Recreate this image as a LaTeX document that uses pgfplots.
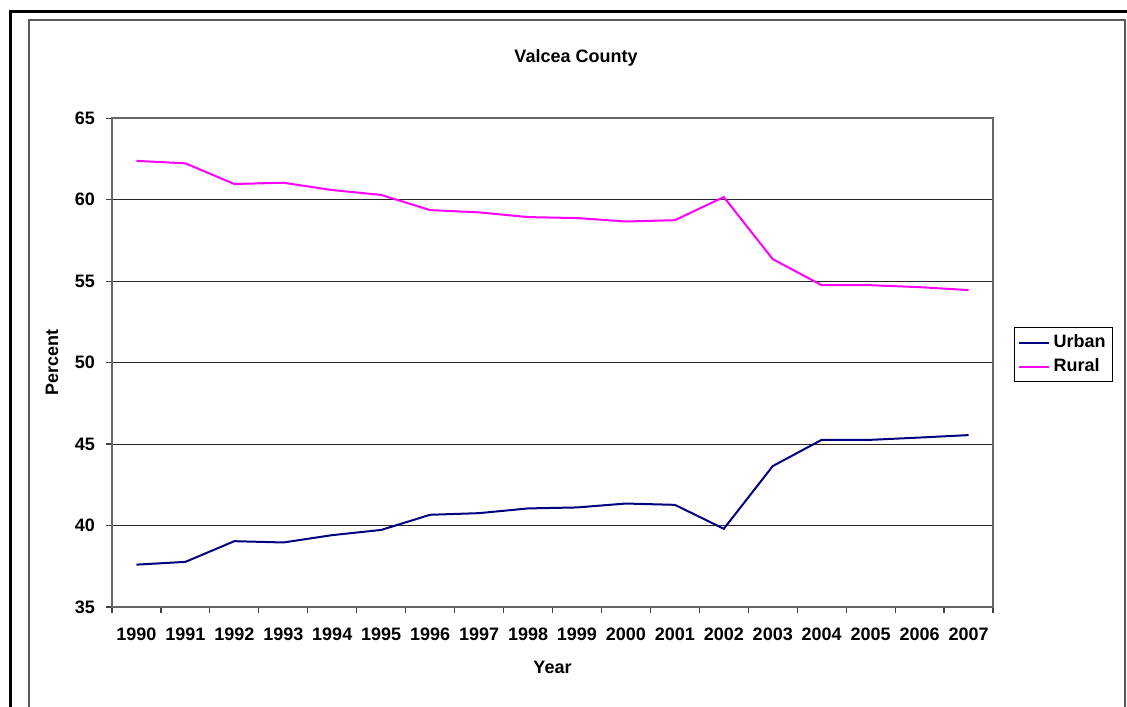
\documentclass[border=0pt]{standalone}
\usepackage{pgfplots}
\pgfplotsset{compat=1.18}
\usepackage{fontspec}
\setmainfont{Liberation Sans}
\definecolor{urban}{RGB}{0,0,128}
\definecolor{rural}{RGB}{255,0,255}
\begin{document}
\begin{tikzpicture}
\clip (0pt,0pt) rectangle (563.5pt,353pt);
\fill[white] (0pt,0pt) rectangle (563.5pt,353pt);
\draw[black, line width=1.5pt] (5pt,347pt) rectangle (575pt,-10pt);
\draw[gray!70!black, line width=0.8pt] (14.5pt,343pt) rectangle (562.5pt,-10pt);
\begin{axis}[
  at={(56pt,49.5pt)}, anchor=south west,
  scale only axis, width=440.5pt, height=244.4pt,
  xmin=-0.5, xmax=17.5, ymin=35, ymax=65,
  ytick={35,40,...,65},
  xtick={0,...,17},
  xticklabels={1990,1991,1992,1993,1994,1995,1996,1997,1998,1999,2000,2001,2002,2003,2004,2005,2006,2007},
  minor xtick={-0.5,0.5,...,17.5},
  major x tick style={draw=none},
  tick align=outside,
  xtick pos=lower, ytick pos=left,
  tick style={black!75, line width=0.6pt},
  major tick length=3pt, minor tick length=3pt,
  ymajorgrids, major grid style={black!85, line width=0.5pt},
  axis line style={gray!80!black, line width=0.7pt},
  ticklabel style={font=\bfseries\fontsize{9}{10}\selectfont},
  xticklabel style={yshift=-4pt},
  yticklabel style={xshift=-2pt},
  /pgf/number format/assume math mode=true,
  title={Valcea County},
  title style={font=\bfseries\fontsize{9}{10}\selectfont, at={(0.5,1)}, anchor=center, yshift=24pt, xshift=11.75pt},
  xlabel={Year}, ylabel={Percent},
  xlabel style={font=\bfseries\fontsize{9}{10}\selectfont, at={(axis description cs:0.5,0)}, anchor=center, yshift=-30pt},
  ylabel style={font=\bfseries\fontsize{9}{10}\selectfont, at={(axis description cs:0,0.5)}, anchor=center, yshift=30pt},
  legend style={at={(1,0.5)}, anchor=west, xshift=10.5pt, yshift=4pt, draw=black, line width=0.5pt,
    font=\bfseries\fontsize{9}{10}\selectfont, inner sep=1.5pt, cells={anchor=west}},
  legend image code/.code={\draw[#1,line width=1pt] (0pt,0pt) -- (15pt,0pt);},
]
\addplot[urban, line width=1pt] coordinates {
(0,37.60) (1,37.77) (2,39.04) (3,38.96) (4,39.41) (5,39.73) (6,40.66) (7,40.76) (8,41.05)
(9,41.11) (10,41.35) (11,41.27) (12,39.80) (13,43.65) (14,45.26) (15,45.26) (16,45.40) (17,45.55)};
\addlegendentry{Urban}
\addplot[rural, line width=1pt] coordinates {
(0,62.38) (1,62.23) (2,60.96) (3,61.04) (4,60.59) (5,60.29) (6,59.36) (7,59.22) (8,58.93)
(9,58.87) (10,58.66) (11,58.74) (12,60.16) (13,56.35) (14,54.75) (15,54.75) (16,54.63) (17,54.45)};
\addlegendentry{Rural}
\end{axis}
\end{tikzpicture}
\end{document}
